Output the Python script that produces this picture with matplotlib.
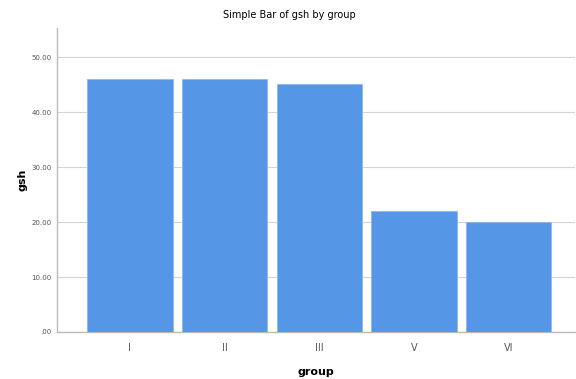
import matplotlib
matplotlib.use("Agg")
import matplotlib.pyplot as plt

categories = ["I", "II", "III", "V", "VI"]
values = [46.0, 46.0, 45.1, 22.0, 20.0]
yticks = [0, 10, 20, 30, 40, 50]
ytick_labels = [".00", "10.00", "20.00", "30.00", "40.00", "50.00"]

fig = plt.figure(figsize=(5.76, 3.79), dpi=100)
W, H = 576, 379
ax = fig.add_axes([57/W, 1-332/H, (575-57)/W, (332-28)/H])

x = range(len(categories))
ax.bar(x, values, width=0.9, color="#5596E6", edgecolor="#8DB8EE", linewidth=0.6, zorder=3)
ax.set_xlim(-0.77, 4.7)
ax.set_ylim(0, 55.3)
ax.set_xticks(list(x))
ax.set_xticklabels(categories, fontsize=7, color="#555555")
ax.set_yticks(yticks)
ax.set_yticklabels(ytick_labels, fontsize=5, color="#555555")
ax.tick_params(axis="both", length=0, pad=4)
ax.tick_params(axis="x", pad=8)
ax.grid(axis="y", color="#D4D4D4", linewidth=0.8, zorder=0)
for s in ["top", "right"]:
    ax.spines[s].set_visible(False)
for s in ["left", "bottom"]:
    ax.spines[s].set_color("#BBBBBB")
    ax.spines[s].set_linewidth(1.0)
ax.set_xlabel("group", fontsize=8, fontweight="bold", labelpad=10)
ax.set_ylabel("gsh", fontsize=8, fontweight="bold", labelpad=3)
fig.text(289/W, 1-15/H, "Simple Bar of gsh by group", ha="center", va="center", fontsize=7)
fig.savefig("out.png", dpi=100)
